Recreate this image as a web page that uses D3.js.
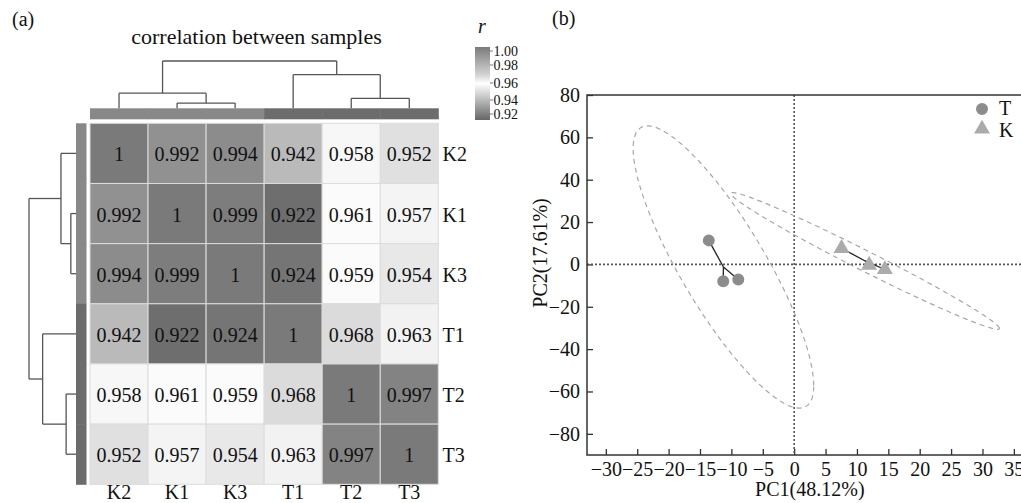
<!DOCTYPE html>
<html>
<head>
<meta charset="utf-8">
<script src="https://cdn.jsdelivr.net/npm/d3@7"></script>
<style>
  html, body { margin: 0; padding: 0; background: #fff; }
  svg { display: block; }
  text { font-family: "Liberation Serif", "Times New Roman", serif; fill: #111; }
</style>
</head>
<body>
<svg id="fig" width="1021" height="503"></svg>
<script>
// ---- panel (a): sample correlation matrix ----
const samples = ["K2", "K1", "K3", "T1", "T2", "T3"];
const sampleGroup = ["K", "K", "K", "T", "T", "T"];
const corrK2 = [1, 0.992, 0.994, 0.942, 0.958, 0.952];
const corrK1 = [0.992, 1, 0.999, 0.922, 0.961, 0.957];
const corrK3 = [0.994, 0.999, 1, 0.924, 0.959, 0.954];
const corrT1 = [0.942, 0.922, 0.924, 1, 0.968, 0.963];
const corrT2 = [0.958, 0.961, 0.959, 0.968, 1, 0.997];
const corrT3 = [0.952, 0.957, 0.954, 0.963, 0.997, 1];
const corrRows = [corrK2, corrK1, corrK3, corrT1, corrT2, corrT3];

// hierarchical clustering merges (node m<i> is the i-th merge), relative heights
const mergeLeft = ["K1", "K2", "T2", "T1", "m1"];
const mergeRight = ["K3", "m0", "T3", "m2", "m3"];
const mergeHeight = [0.11, 0.32, 0.21, 0.71, 1.0];

const legendTicks = [1.00, 0.98, 0.96, 0.94, 0.92];

// ---- panel (b): PCA scores ----
const pc1T = [-13.6, -11.3, -8.9];
const pc2T = [11.35, -7.9, -7.1];
const pc1K = [7.55, 11.95, 14.45];
const pc2K = [7.6, -0.3, -2.4];
const pcaXTicks = d3.range(-30, 36, 5);
const pcaYTicks = d3.range(-80, 81, 20);
const pcaXLabel = "PC1(48.12%)";
const pcaYLabel = "PC2(17.61%)";

const svg = d3.select("#fig");
const font = "\"Liberation Serif\", \"Times New Roman\", serif";

// correlation colour ramp: dark grey -> white -> grey
const color = d3.scaleLinear()
  .domain([0.92, 0.96, 0.97, 1.0])
  .range(["#666666", "#ffffff", "#d2d2d2", "#7a7a7a"]);

const xBand = d3.scaleBand().domain(samples).range([90, 438.3]);
const yBand = d3.scaleBand().domain(samples).range([123.3, 484.3]);

// panel labels and title
svg.append("text").attr("x", 12).attr("y", 26).attr("font-size", 20).text("(a)");
svg.append("text").attr("x", 552).attr("y", 25).attr("font-size", 20).text("(b)");
svg.append("text").attr("x", 256.5).attr("y", 44).attr("text-anchor", "middle")
  .attr("font-size", 22).text("correlation between samples");

// heatmap cells
const cells = [];
corrRows.forEach((row, i) => row.forEach((v, j) => cells.push({ r: samples[i], c: samples[j], v })));
const gCells = svg.append("g");
gCells.selectAll("rect").data(cells).join("rect")
  .attr("x", d => xBand(d.c)).attr("y", d => yBand(d.r))
  .attr("width", xBand.bandwidth()).attr("height", yBand.bandwidth())
  .attr("fill", d => color(d.v))
  .attr("stroke", "#dcdcdc").attr("stroke-width", 1);
gCells.selectAll("text").data(cells).join("text")
  .attr("x", d => xBand(d.c) + xBand.bandwidth() / 2)
  .attr("y", d => yBand(d.r) + yBand.bandwidth() / 2 + 8)
  .attr("text-anchor", "middle").attr("font-size", 20)
  .text(d => d3.format("")(d.v));

// row and column labels
svg.append("g").selectAll("text").data(samples).join("text")
  .attr("x", 442.5).attr("y", d => yBand(d) + yBand.bandwidth() / 2 + 8)
  .attr("font-size", 20).text(d => d);
svg.append("g").selectAll("text").data(samples).join("text")
  .attr("x", d => xBand(d) + xBand.bandwidth() / 2).attr("y", 499)
  .attr("text-anchor", "middle").attr("font-size", 20).text(d => d);

// group annotation bars
const groupColor = d3.scaleOrdinal().domain(["K", "T"]).range(["#888888", "#6c6c6c"]);
svg.append("g").selectAll("rect").data(samples).join("rect")
  .attr("x", d => xBand(d)).attr("y", 108.3)
  .attr("width", xBand.bandwidth() + 0.5).attr("height", 11)
  .attr("fill", (d, i) => groupColor(sampleGroup[i]));
svg.append("g").selectAll("rect").data(samples).join("rect")
  .attr("x", 76).attr("y", d => yBand(d))
  .attr("width", 10.5).attr("height", yBand.bandwidth() + 0.5)
  .attr("fill", (d, i) => groupColor(sampleGroup[i]));

// dendrograms
function drawDendrogram(posScale, heightScale, vertical) {
  const pos = {}, hgt = {};
  samples.forEach(s => { pos[s] = posScale(s) + posScale.bandwidth() / 2; hgt[s] = 0; });
  const segs = [];
  mergeHeight.forEach((h, i) => {
    const a = mergeLeft[i], b = mergeRight[i], id = "m" + i;
    pos[id] = (pos[a] + pos[b]) / 2;
    hgt[id] = h;
    segs.push([pos[a], hgt[a], pos[a], h]);
    segs.push([pos[b], hgt[b], pos[b], h]);
    segs.push([pos[a], h, pos[b], h]);
  });
  const g = svg.append("g").attr("fill", "none").attr("stroke", "#555").attr("stroke-width", 1.3);
  g.selectAll("line").data(segs).join("line")
    .attr(vertical ? "x1" : "y1", d => d[0])
    .attr(vertical ? "y1" : "x1", d => heightScale(d[1]))
    .attr(vertical ? "x2" : "y2", d => d[2])
    .attr(vertical ? "y2" : "x2", d => heightScale(d[3]));
}
drawDendrogram(xBand, d3.scaleLinear().domain([0, 1]).range([108.3, 61]), true);
drawDendrogram(yBand, d3.scaleLinear().domain([0, 1]).range([76, 29]), false);

// colour legend: bar with gradient, compact label column beside it
const legY = d3.scaleLinear().domain([0.92, 1.0]).range([120, 47]);
const legLabelY = d3.scaleLinear().domain([0.92, 0.94, 0.96, 0.98, 1.0]).range([119, 105, 88, 70, 56]);
const grad = svg.append("defs").append("linearGradient").attr("id", "rgrad")
  .attr("x1", 0).attr("y1", 1).attr("x2", 0).attr("y2", 0);
d3.range(0.92, 1.0001, 0.005).forEach(v => {
  grad.append("stop").attr("offset", (v - 0.92) / 0.08).attr("stop-color", color(v));
});
svg.append("rect").attr("x", 475).attr("y", legY(1.0)).attr("width", 15)
  .attr("height", legY(0.92) - legY(1.0)).attr("fill", "url(#rgrad)");
svg.append("text").attr("x", 482).attr("y", 33).attr("text-anchor", "middle")
  .attr("font-size", 20).attr("font-style", "italic").text("r");
const legG = svg.append("g");
legG.selectAll("line").data(legendTicks).join("line")
  .attr("x1", 490).attr("x2", 493).attr("y1", d => legLabelY(d) - 5).attr("y2", d => legLabelY(d) - 5)
  .attr("stroke", "#777").attr("stroke-width", 1);
legG.selectAll("text").data(legendTicks).join("text")
  .attr("x", 493.5).attr("y", d => legLabelY(d))
  .attr("font-size", 14).text(d => d3.format(".2f")(d));

// ---- PCA panel ----
const x = d3.scaleLinear().domain([-33, 38]).range([587, 1032.7]);
const y = d3.scaleLinear().domain([-90, 80]).range([455, 95]);

const xAxis = d3.axisBottom(x).tickValues(pcaXTicks).tickSizeInner(-6).tickSizeOuter(0).tickPadding(7);
const yAxis = d3.axisLeft(y).tickValues(pcaYTicks).tickSizeInner(-6).tickSizeOuter(0).tickPadding(7);
const gx = svg.append("g").attr("transform", `translate(0,${y(-90)})`).call(xAxis);
const gy = svg.append("g").attr("transform", `translate(${x(-33)},0)`).call(yAxis);
[gx, gy].forEach(g => {
  g.select(".domain").remove();
  g.selectAll("line").attr("stroke", "#333").attr("stroke-width", 1.3);
  g.selectAll("text").attr("font-family", font).attr("font-size", 20).attr("fill", "#111");
});

// zero reference lines
svg.append("line").attr("x1", x(0)).attr("x2", x(0)).attr("y1", y(80)).attr("y2", y(-90))
  .attr("stroke", "#555").attr("stroke-width", 1.6).attr("stroke-dasharray", "2,2");
svg.append("line").attr("x1", x(-33)).attr("x2", x(38)).attr("y1", y(0)).attr("y2", y(0))
  .attr("stroke", "#555").attr("stroke-width", 1.6).attr("stroke-dasharray", "2,2");

// frame
svg.append("rect").attr("x", x(-33)).attr("y", y(80))
  .attr("width", x(38) - x(-33)).attr("height", y(-90) - y(80))
  .attr("fill", "none").attr("stroke", "#333").attr("stroke-width", 1.5);

// axis titles
svg.append("text").attr("x", (x(-33) + x(38)) / 2).attr("y", 496).attr("text-anchor", "middle")
  .attr("font-size", 20).text(pcaXLabel);
svg.append("text").attr("transform", "translate(547,253) rotate(-90)").attr("text-anchor", "middle")
  .attr("font-size", 20).text(pcaYLabel);

// groups: confidence ellipse from score covariance, star lines to centroid, points
const ellipseScale = 6.12;
const groupData = [
  { name: "T", xs: pc1T, ys: pc2T, symbol: d3.symbolCircle, size: 113, fill: "#8c8c8c" },
  { name: "K", xs: pc1K, ys: pc2K, symbol: d3.symbolTriangle, size: 110, fill: "#ababab" }
];
const ellipseLine = d3.line().x(d => x(d[0])).y(d => y(d[1])).curve(d3.curveLinearClosed);
groupData.forEach(gd => {
  const mx = d3.mean(gd.xs), my = d3.mean(gd.ys);
  const sx = d3.deviation(gd.xs), sy = d3.deviation(gd.ys);
  const cov = d3.sum(gd.xs.map((v, i) => (v - mx) * (gd.ys[i] - my))) / (gd.xs.length - 1);
  const rho = cov / (sx * sy);
  const pts = d3.range(0, 2 * Math.PI, Math.PI / 90).map(t => [
    mx + ellipseScale * sx * Math.cos(t),
    my + ellipseScale * sy * (rho * Math.cos(t) + Math.sqrt(1 - rho * rho) * Math.sin(t))
  ]);
  svg.append("path").attr("d", ellipseLine(pts)).attr("fill", "none")
    .attr("stroke", "#a8a8a8").attr("stroke-width", 1.2).attr("stroke-dasharray", "5,4");
  gd.mx = mx; gd.my = my;
});
groupData.forEach(gd => {
  svg.append("g").selectAll("line").data(gd.xs).join("line")
    .attr("x1", d => x(d)).attr("y1", (d, i) => y(gd.ys[i]))
    .attr("x2", x(gd.mx)).attr("y2", y(gd.my))
    .attr("stroke", "#222").attr("stroke-width", 1.3);
});
groupData.forEach(gd => {
  svg.append("g").selectAll("path").data(gd.xs).join("path")
    .attr("transform", (d, i) => `translate(${x(d)},${y(gd.ys[i])})`)
    .attr("d", d3.symbol().type(gd.symbol).size(gd.size)).attr("fill", gd.fill);
});

// legend
const lg = svg.append("g");
groupData.forEach((gd, i) => {
  lg.append("path").attr("transform", `translate(982,${109 + i * 20})`)
    .attr("d", d3.symbol().type(gd.symbol).size(gd.size)).attr("fill", gd.fill);
  lg.append("text").attr("x", 999).attr("y", 115 + i * 22).attr("font-size", 20).text(gd.name);
});
</script>
</body>
</html>
